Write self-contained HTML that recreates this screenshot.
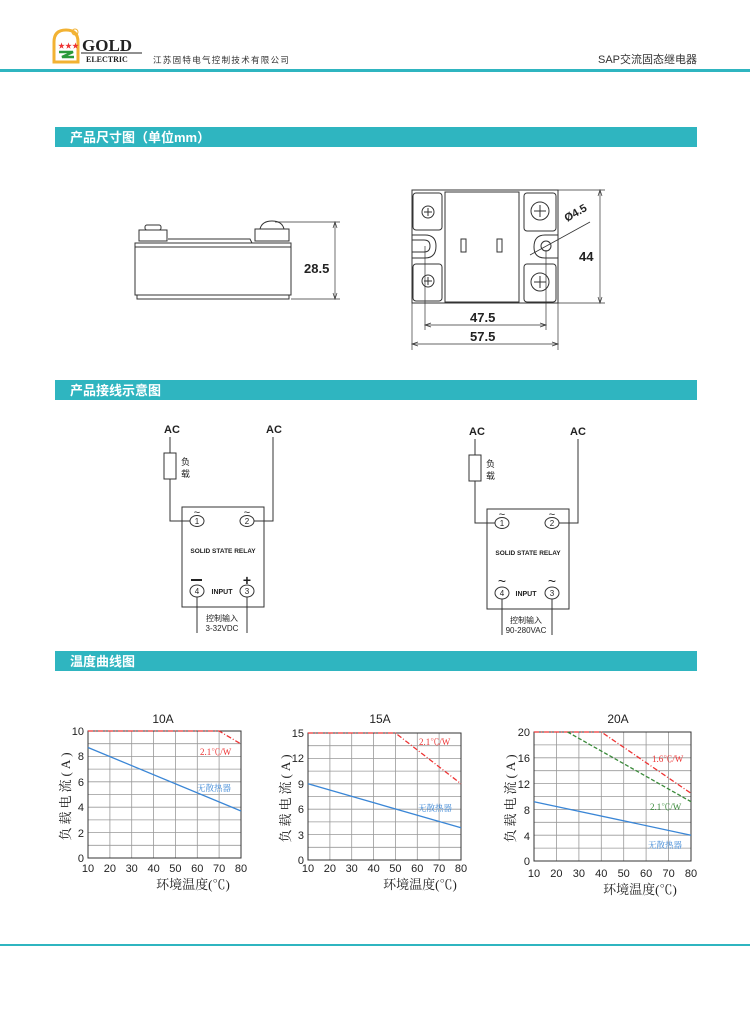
<!DOCTYPE html>
<html><head><meta charset="utf-8"><style>
html,body{margin:0;padding:0;background:#fff;}
svg{display:block;}
.s{font-family:"Liberation Sans","Noto Sans CJK SC",sans-serif;}
.f{font-family:"Liberation Serif","Noto Serif CJK SC",serif;}
</style></head><body>
<svg width="750" height="1018" viewBox="0 0 750 1018" xmlns="http://www.w3.org/2000/svg">
<!-- header -->
<path d="M54 62 V42 Q54 30 66 30 Q78 30 78 42 V62 Z" fill="#fff" stroke="#f2b233" stroke-width="3"/>
<text x="58" y="48" font-size="7" fill="#e33" class="s">★★★</text>
<path d="M59 52 H73 L62 57 H74" stroke="#2a9a3a" stroke-width="2.5" fill="none"/>
<circle cx="75" cy="32" r="3" fill="none" stroke="#f2b233"/>
<text x="82" y="51" font-size="17" font-weight="bold" class="f" fill="#222">GOLD</text>
<line x1="81" y1="53" x2="142" y2="53" stroke="#222"/>
<text x="86" y="62" font-size="8" font-weight="bold" class="f" fill="#222">ELECTRIC</text>
<text x="153" y="63" font-size="8.5" class="s" fill="#333" letter-spacing="1.3">江苏固特电气控制技术有限公司</text>
<text x="697" y="63" font-size="11" text-anchor="end" class="s" fill="#333">SAP交流固态继电器</text>
<rect x="0" y="69" width="750" height="3" fill="#2fb5c0"/>
<!-- section bars -->
<rect x="55" y="127" width="642" height="20" fill="#2fb5c0"/>
<text x="70" y="142" font-size="13" font-weight="bold" fill="#fff" class="s">产品尺寸图（单位mm）</text>
<rect x="55" y="380" width="642" height="20" fill="#2fb5c0"/>
<text x="70" y="395" font-size="13" font-weight="bold" fill="#fff" class="s">产品接线示意图</text>
<rect x="55" y="651" width="642" height="20" fill="#2fb5c0"/>
<text x="70" y="666" font-size="13" font-weight="bold" fill="#fff" class="s">温度曲线图</text>
<rect x="0" y="944" width="750" height="2" fill="#2fb5c0"/>

<!-- side view -->
<g stroke="#333" fill="none" stroke-width="1">
<rect x="135" y="243" width="156" height="52"/>
<line x1="135" y1="247" x2="291" y2="247"/>
<rect x="137" y="295" width="152" height="4"/>
<path d="M168 239 L250 239 L252 243"/>
<rect x="139" y="230" width="28" height="11"/><rect x="145" y="225" width="16" height="5" rx="2"/>
<rect x="255" y="229" width="34" height="12"/><path d="M260 229 Q262 221 272 221 Q282 221 284 229"/>
<line x1="275" y1="222" x2="340" y2="222" stroke-width="0.7"/>
<line x1="291" y1="299" x2="340" y2="299" stroke-width="0.7"/>
<line x1="335" y1="222" x2="335" y2="299" stroke-width="0.7"/>
<path d="M333 228 L335 222 L337 228 M333 293 L335 299 L337 293" stroke-width="0.7"/>
</g>
<text x="304" y="273" font-size="13" font-weight="bold" class="s" fill="#222">28.5</text>

<!-- top view -->
<g stroke="#333" fill="none" stroke-width="1">
<rect x="412" y="190" width="146" height="113"/>
<rect x="445" y="192" width="74" height="110"/>
<rect x="413" y="193" width="29" height="37" rx="3"/>
<rect x="413" y="264" width="29" height="37" rx="3"/>
<rect x="524" y="193" width="32" height="38" rx="3"/>
<rect x="524" y="264" width="32" height="38" rx="3"/>
<circle cx="428" cy="212" r="6"/><path d="M428 208v8M424 212h8"/>
<circle cx="428" cy="281" r="6"/><path d="M428 277v8M424 281h8"/>
<circle cx="540" cy="211" r="9"/><path d="M540 205v12M534 211h12"/>
<circle cx="540" cy="282" r="9"/><path d="M540 276v12M534 282h12"/>
<path d="M412 235 H425 Q436 235 436 246 Q436 258 425 258 H412 M412 240 H424 Q430 240 430 246 Q430 252 424 252 H412"/>
<path d="M558 235 H545 Q534 235 534 247 Q534 258 545 258 H558"/>
<circle cx="546" cy="246" r="5"/>
<rect x="461" y="239" width="5" height="13"/><rect x="497" y="239" width="5" height="13"/>
<line x1="530" y1="255" x2="590" y2="222" stroke-width="0.8"/>
<g stroke-width="0.7">
<line x1="425" y1="246" x2="425" y2="330"/><line x1="546" y1="250" x2="546" y2="330"/>
<line x1="412" y1="303" x2="412" y2="350"/><line x1="558" y1="303" x2="558" y2="350"/>
<line x1="425" y1="325" x2="546" y2="325"/><line x1="412" y1="344" x2="558" y2="344"/>
<line x1="558" y1="190" x2="605" y2="190"/><line x1="558" y1="303" x2="605" y2="303"/>
<line x1="600" y1="190" x2="600" y2="303"/>
<path d="M431 323 L425 325 L431 327 M540 323 L546 325 L540 327 M418 342 L412 344 L418 346 M552 342 L558 344 L552 346 M598 196 L600 190 L602 196 M598 297 L600 303 L602 297"/>
</g>
</g>
<text x="567" y="222" font-size="11" font-weight="bold" class="s" fill="#222" transform="rotate(-30 567 222)">Ø4.5</text>
<text x="579" y="261" font-size="13" font-weight="bold" class="s" fill="#222">44</text>
<text x="470" y="322" font-size="13" font-weight="bold" class="s" fill="#222">47.5</text>
<text x="470" y="341" font-size="13" font-weight="bold" class="s" fill="#222">57.5</text>

<!-- wiring left -->
<g class="s" fill="#222">
<text x="164" y="433" font-size="11" font-weight="bold">AC</text>
<text x="266" y="433" font-size="11" font-weight="bold">AC</text>
<text x="181" y="465" font-size="9">负</text><text x="181" y="477" font-size="9">载</text>
<text x="223" y="553" font-size="6.5" font-weight="bold" text-anchor="middle">SOLID STATE RELAY</text>
<text x="222" y="594" font-size="7" font-weight="bold" text-anchor="middle">INPUT</text>
<text x="222" y="621" font-size="8" text-anchor="middle">控制输入</text>
<text x="222" y="631" font-size="8" text-anchor="middle">3-32VDC</text>
<text x="197" y="524" font-size="8" text-anchor="middle">1</text><text x="247" y="524" font-size="8" text-anchor="middle">2</text>
<text x="197" y="594" font-size="8" text-anchor="middle">4</text><text x="247" y="594" font-size="8" text-anchor="middle">3</text>
<text x="197" y="516" font-size="11" text-anchor="middle">~</text><text x="247" y="516" font-size="11" text-anchor="middle">~</text>
<text x="247" y="585" font-size="14" font-weight="bold" text-anchor="middle">+</text>
<rect x="191" y="579" width="11" height="2"/>
</g>
<g stroke="#333" fill="none" stroke-width="1">
<rect x="182" y="507" width="82" height="100"/>
<rect x="164" y="453" width="12" height="26"/>
<path d="M170 437 V453 M170 479 V521 H190 M254 521 H273 V437"/>
<ellipse cx="197" cy="521" rx="7" ry="5.5"/><ellipse cx="247" cy="521" rx="7" ry="5.5"/>
<ellipse cx="197" cy="591" rx="7" ry="6"/><ellipse cx="247" cy="591" rx="7" ry="6"/>
<path d="M197 597 V633 M247 597 V633"/>
</g>
<!-- wiring right -->
<g class="s" fill="#222">
<text x="469" y="435" font-size="11" font-weight="bold">AC</text>
<text x="570" y="435" font-size="11" font-weight="bold">AC</text>
<text x="486" y="467" font-size="9">负</text><text x="486" y="479" font-size="9">载</text>
<text x="528" y="555" font-size="6.5" font-weight="bold" text-anchor="middle">SOLID STATE RELAY</text>
<text x="526" y="596" font-size="7" font-weight="bold" text-anchor="middle">INPUT</text>
<text x="526" y="623" font-size="8" text-anchor="middle">控制输入</text>
<text x="526" y="633" font-size="8" text-anchor="middle">90-280VAC</text>
<text x="502" y="526" font-size="8" text-anchor="middle">1</text><text x="552" y="526" font-size="8" text-anchor="middle">2</text>
<text x="502" y="596" font-size="8" text-anchor="middle">4</text><text x="552" y="596" font-size="8" text-anchor="middle">3</text>
<text x="502" y="518" font-size="11" text-anchor="middle">~</text><text x="552" y="518" font-size="11" text-anchor="middle">~</text>
<text x="502" y="586" font-size="14" text-anchor="middle">~</text><text x="552" y="586" font-size="14" text-anchor="middle">~</text>
</g>
<g stroke="#333" fill="none" stroke-width="1">
<rect x="487" y="509" width="82" height="100"/>
<rect x="469" y="455" width="12" height="26"/>
<path d="M475 439 V455 M475 481 V523 H495 M559 523 H578 V439"/>
<ellipse cx="502" cy="523" rx="7" ry="5.5"/><ellipse cx="552" cy="523" rx="7" ry="5.5"/>
<ellipse cx="502" cy="593" rx="7" ry="6"/><ellipse cx="552" cy="593" rx="7" ry="6"/>
<path d="M502 599 V635 M552 599 V635"/>
</g>

<!-- chart 1 -->
<g stroke="#999" stroke-width="0.8" fill="none">
<path d="M109.9 731V858M131.7 731V858M153.6 731V858M175.4 731V858M197.3 731V858M219.1 731V858
M88 743.7H241M88 756.4H241M88 769.1H241M88 781.8H241M88 794.5H241M88 807.2H241M88 819.9H241M88 832.6H241M88 845.3H241"/>
</g>
<rect x="88" y="731" width="153" height="127" fill="none" stroke="#333"/>
<path d="M88 731H219.1L241 744" stroke="#e33" stroke-width="1.3" fill="none" stroke-dasharray="5,2,1,2"/>
<path d="M88 747.5L241 811" stroke="#3a86d6" stroke-width="1.3" fill="none"/>
<g class="s" font-size="11" fill="#222">
<text x="163" y="723" text-anchor="middle" font-size="12">10A</text>
<g text-anchor="end"><text x="84" y="735">10</text><text x="84" y="760">8</text><text x="84" y="786">6</text><text x="84" y="811">4</text><text x="84" y="837">2</text><text x="84" y="862">0</text></g>
<g text-anchor="middle"><text x="88" y="872">10</text><text x="109.9" y="872">20</text><text x="131.7" y="872">30</text><text x="153.6" y="872">40</text><text x="175.4" y="872">50</text><text x="197.3" y="872">60</text><text x="219.1" y="872">70</text><text x="241" y="872">80</text></g>
</g>
<text x="200" y="755" font-size="9" fill="#e33" class="f">2.1℃/W</text>
<text x="197" y="791" font-size="8.5" fill="#3a86d6" class="f">无散热器</text>
<text x="193" y="889" font-size="13" class="f" fill="#222" text-anchor="middle">环境温度(℃)</text>
<text transform="translate(70 795) rotate(-90)" font-size="13" class="f" fill="#222" text-anchor="middle" letter-spacing="3">负载电流(A)</text>

<!-- chart 2 -->
<g stroke="#999" stroke-width="0.8" fill="none">
<path d="M329.9 733V860M351.7 733V860M373.6 733V860M395.4 733V860M417.3 733V860M439.1 733V860
M308 745.7H461M308 758.4H461M308 771.1H461M308 783.8H461M308 796.5H461M308 809.2H461M308 821.9H461M308 834.6H461M308 847.3H461"/>
</g>
<rect x="308" y="733" width="153" height="127" fill="none" stroke="#333"/>
<path d="M308 733H395.4L461 783.8" stroke="#e33" stroke-width="1.3" fill="none" stroke-dasharray="5,2,1,2"/>
<path d="M308 783.8L461 827.8" stroke="#3a86d6" stroke-width="1.3" fill="none"/>
<g class="s" font-size="11" fill="#222">
<text x="380" y="723" text-anchor="middle" font-size="12">15A</text>
<g text-anchor="end"><text x="304" y="737">15</text><text x="304" y="762">12</text><text x="304" y="788">9</text><text x="304" y="813">6</text><text x="304" y="839">3</text><text x="304" y="864">0</text></g>
<g text-anchor="middle"><text x="308" y="872">10</text><text x="329.9" y="872">20</text><text x="351.7" y="872">30</text><text x="373.6" y="872">40</text><text x="395.4" y="872">50</text><text x="417.3" y="872">60</text><text x="439.1" y="872">70</text><text x="461" y="872">80</text></g>
</g>
<text x="419" y="745" font-size="9" fill="#e33" class="f">2.1℃/W</text>
<text x="418" y="811" font-size="8.5" fill="#3a86d6" class="f">无散热器</text>
<text x="420" y="889" font-size="13" class="f" fill="#222" text-anchor="middle">环境温度(℃)</text>
<text transform="translate(290 797) rotate(-90)" font-size="13" class="f" fill="#222" text-anchor="middle" letter-spacing="3">负载电流(A)</text>

<!-- chart 3 -->
<g stroke="#999" stroke-width="0.8" fill="none">
<path d="M556.4 732V861M578.9 732V861M601.3 732V861M623.7 732V861M646.1 732V861M668.6 732V861
M534 744.9H691M534 757.8H691M534 770.7H691M534 783.6H691M534 796.5H691M534 809.4H691M534 822.3H691M534 835.2H691M534 848.1H691"/>
</g>
<rect x="534" y="732" width="157" height="129" fill="none" stroke="#333"/>
<path d="M534 732H601.3L691 793.3" stroke="#e33" stroke-width="1.3" fill="none" stroke-dasharray="5,2,1,2"/>
<path d="M567.6 732L691 801.7" stroke="#3a8a3a" stroke-width="1.3" fill="none" stroke-dasharray="4,2"/>
<path d="M534 801.7L691 835.2" stroke="#3a86d6" stroke-width="1.3" fill="none"/>
<g class="s" font-size="11" fill="#222">
<text x="618" y="723" text-anchor="middle" font-size="12">20A</text>
<g text-anchor="end"><text x="530" y="736">20</text><text x="530" y="762">16</text><text x="530" y="788">12</text><text x="530" y="814">8</text><text x="530" y="840">4</text><text x="530" y="865">0</text></g>
<g text-anchor="middle"><text x="534" y="877">10</text><text x="556.4" y="877">20</text><text x="578.9" y="877">30</text><text x="601.3" y="877">40</text><text x="623.7" y="877">50</text><text x="646.1" y="877">60</text><text x="668.6" y="877">70</text><text x="691" y="877">80</text></g>
</g>
<text x="652" y="762" font-size="9" fill="#e33" class="f">1.6℃/W</text>
<text x="650" y="810" font-size="9" fill="#3a8a3a" class="f">2.1℃/W</text>
<text x="648" y="848" font-size="8.5" fill="#3a86d6" class="f">无散热器</text>
<text x="640" y="894" font-size="13" class="f" fill="#222" text-anchor="middle">环境温度(℃)</text>
<text transform="translate(515 797) rotate(-90)" font-size="13" class="f" fill="#222" text-anchor="middle" letter-spacing="3">负载电流(A)</text>
</svg>
</body></html>
